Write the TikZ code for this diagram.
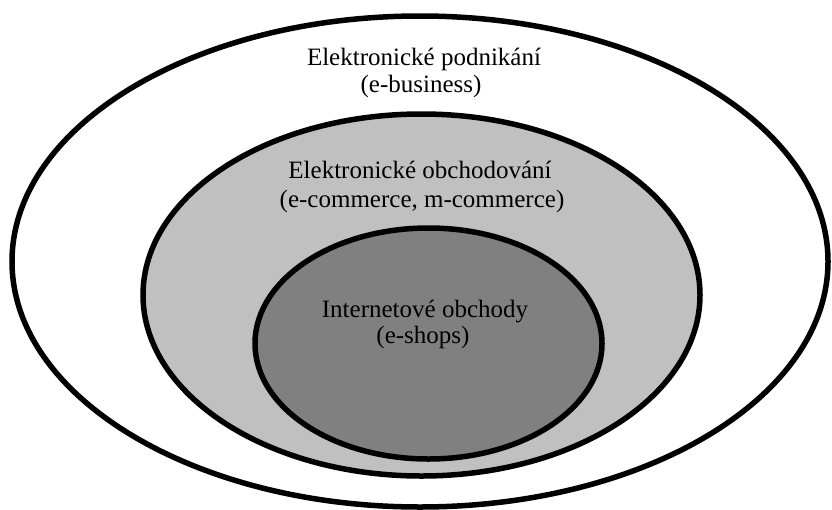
\documentclass[tikz,border=0pt]{standalone}
\usepackage{fontspec}
\setmainfont{Liberation Serif}
\definecolor{comgray}{RGB}{192,192,192}
\definecolor{shopgray}{RGB}{128,128,128}

\begin{document}
\begin{tikzpicture}[x=1pt,y=-1pt,
    ring/.style={line width=5.5pt},
    lbl/.style={anchor=base,inner sep=0pt,font=\fontsize{25}{27}\selectfont}]
    \useasboundingbox (0,0) rectangle (832,509);
    % three nested areas
    \draw[ring,fill=white] (420,261.5) ellipse (408 and 245.5);
    \draw[ring,fill=comgray] (421.5,295) ellipse (278.5 and 181);
    \draw[ring,fill=shopgray] (428.5,343.5) ellipse (173.5 and 115.5);
    \node[lbl] (busname) at (424,65) {Elektronické podnikání};
    \node[lbl] (busnote) at (421,92) {(e-business)};
    \node[lbl] (comname) at (420,178) {Elektronické obchodování};
    \node[lbl] (comnote) at (422,207) {(e-commerce, m-commerce)};
    \node[lbl] (shopname) at (425,317) {Internetové obchody};
    \node[lbl] (shopnote) at (423,343) {(e-shops)};
  \end{tikzpicture}
\end{document}
